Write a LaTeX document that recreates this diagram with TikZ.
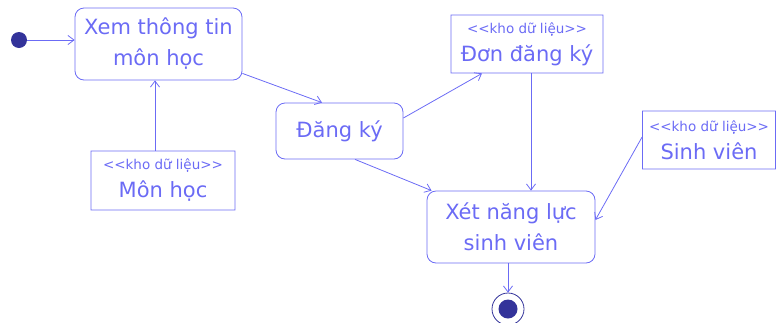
\documentclass[tikz,border=0pt]{standalone}
\usepackage{fontspec}
\setmainfont{DejaVu Sans}
\usetikzlibrary{arrows.meta}
\definecolor{umlline}{HTML}{6B6BF5}
\definecolor{umldot}{HTML}{33339A}
\newcommand{\khostereo}{{\fontsize{13.5}{15}\selectfont <{}<kho dữ liệu>{}>}}

\begin{document}
\begin{tikzpicture}[x=1pt, y=1pt, >={Straight Barb[length=6pt, width=9pt]},
        act/.style={draw, color=umlline, line width=0.8pt, rounded corners=9pt, align=center, inner sep=0,
                    font=\fontsize{21}{31}\selectfont},
        store/.style={draw, color=umlline, line width=0.8pt, rounded corners=0.01pt, align=center, inner sep=0,
                    font=\fontsize{21}{28}\selectfont},
        flow/.style={->, umlline, line width=0.8pt}]
        \useasboundingbox (0,0) rectangle (776,-322);
        \node[circle, fill=umldot, minimum size=16pt, inner sep=0] (init) at (19,-40) {};
        \node[act, minimum width=167pt, minimum height=72pt] (xem) at (158.5,-44) {Xem thông tin\\môn học};
        \node[store, minimum width=144pt, minimum height=59pt] (mon) at (163,-180.5) {\khostereo\\Môn học};
        \node[act, minimum width=127pt, minimum height=56pt] (dk) at (339.5,-131) {Đăng ký};
        \node[store, minimum width=152pt, minimum height=58pt] (don) at (527,-44) {\khostereo\\Đơn đăng ký};
        \node[act, minimum width=168pt, minimum height=72pt] (xet) at (511,-227) {Xét năng lực\\sinh viên};
        \node[store, minimum width=133pt, minimum height=58pt] (sv) at (709,-140) {\khostereo\\Sinh viên};
        \node[circle, draw=umldot, line width=0.8pt, minimum size=32pt, inner sep=0] (fin) at (508,-309) {};
        \node[circle, fill=umldot, minimum size=19pt, inner sep=0] at (fin) {};
        % luong
        \draw[flow] (init) -- (init -| xem.west);
        \draw[flow] ([xshift=-8pt]mon.north) -- ([xshift=-8pt]mon.north |- xem.south);
        \draw[flow] ([yshift=7pt]xem.south east) -- ([xshift=-17.5pt]dk.north);
        \draw[flow] ([yshift=13pt]dk.east) -- ([xshift=-45pt]don.south);
        \draw[flow] ([xshift=4pt]don.south) -- ([xshift=4pt]don.south |- xet.north);
        \draw[flow] ([xshift=15.5pt]dk.south) -- ([xshift=5pt]xet.north west);
        \draw[flow] ([yshift=3pt]sv.west) -- ([yshift=7pt]xet.east);
        \draw[flow] (xet.south -| fin) -- (fin.north);
\end{tikzpicture}
\end{document}
